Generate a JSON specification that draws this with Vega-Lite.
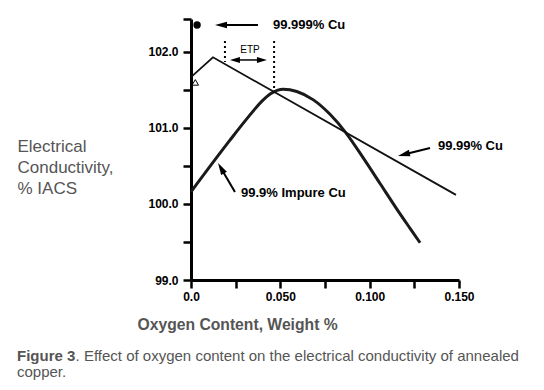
{
  "$schema": "https://vega.github.io/schema/vega-lite/v6.json",
  "width": 268,
  "height": 261,
  "autosize": {"type": "none"},
  "padding": {"left": 191, "top": 19, "right": 85, "bottom": 110},
  "background": "white",
  "config": {"view": {"stroke": null}, "font": "Liberation Sans"},
  "datasets": {
    "impure": [
      {"x": 0, "y": 100.16},
      {"x": 0.0218, "y": 100.84},
      {"x": 0.0312, "y": 101.12},
      {"x": 0.0396, "y": 101.35},
      {"x": 0.0445, "y": 101.45},
      {"x": 0.0517, "y": 101.51},
      {"x": 0.0592, "y": 101.48},
      {"x": 0.0685, "y": 101.37},
      {"x": 0.0778, "y": 101.18},
      {"x": 0.0866, "y": 100.94},
      {"x": 0.0963, "y": 100.61},
      {"x": 0.1058, "y": 100.27},
      {"x": 0.1153, "y": 99.93},
      {"x": 0.1226, "y": 99.68},
      {"x": 0.1282, "y": 99.49}
    ],
    "cu9999": [
      {"x": 0, "y": 101.67},
      {"x": 0.0123, "y": 101.93},
      {"x": 0.1483, "y": 100.12}
    ],
    "shafts": [
      {"x": 0.0168, "y": 102.355, "x2": 0.0375, "y2": 102.355},
      {"x": 0.1191, "y": 100.651, "x2": 0.1338, "y2": 100.737},
      {"x": 0.0168, "y": 100.471, "x2": 0.0246, "y2": 100.158}
    ],
    "etpShaft": [
      {"x": 0.0246, "y": 101.895, "x2": 0.0397, "y2": 101.895}
    ],
    "dotted": [
      {"x": 0.019, "y": 102.145, "x2": 0.019, "y2": 101.868},
      {"x": 0.0465, "y": 102.145, "x2": 0.0465, "y2": 101.5}
    ],
    "labels": [
      {"x": 0.0459, "y": 102.355, "label": "99.999% Cu"},
      {"x": 0.1382, "y": 100.763, "label": "99.99% Cu"},
      {"x": 0.028, "y": 100.145, "label": "99.9% Impure Cu"}
    ],
    "captionBold": [
      {"x": -0.0974, "y": 97.934, "label": "Figure 3"}
    ],
    "captionText": [
      {"x": -0.0646, "y": 97.934, "label": ". Effect of oxygen content on the electrical conductivity of annealed"},
      {"x": -0.0974, "y": 97.728, "label": "copper."}
    ]
  },
  "encoding": {
    "x": {
      "field": "x", "type": "quantitative",
      "scale": {"domain": [0, 0.15], "nice": false, "zero": false},
      "axis": {
        "values": [0, 0.025, 0.05, 0.075, 0.1, 0.125, 0.15],
        "labelExpr": "datum.value == 0 ? '0.0' : (abs(datum.value * 20 - round(datum.value * 20)) < 0.001 ? format(datum.value, '.3f') : '')",
        "grid": false,
        "domainWidth": 3, "domainColor": "#000",
        "tickColor": "#000", "tickWidth": 2.5, "tickSize": 8,
        "labelFont": "Liberation Sans", "labelFontWeight": "bold", "labelFontSize": 12,
        "labelColor": "#000", "labelPadding": 3, "labelFlush": false, "labelOverlap": false,
        "title": "Oxygen Content, Weight %",
        "titleFont": "Liberation Sans", "titleFontSize": 15.7, "titleFontWeight": "bold",
        "titleColor": "#555", "titleX": -54, "titleY": 49, "titleAlign": "left",
        "titleBaseline": "alphabetic", "titleAnchor": null
      }
    },
    "y": {
      "field": "y", "type": "quantitative",
      "scale": {"domain": [99, 102.434], "nice": false, "zero": false},
      "axis": {
        "values": [99, 99.5, 100, 100.5, 101, 101.5, 102, 102.434],
        "labelExpr": "abs(datum.value - round(datum.value)) < 0.001 ? format(datum.value, '.1f') : ''",
        "grid": false,
        "domainWidth": 3, "domainColor": "#000",
        "tickColor": "#000", "tickWidth": 2.5, "tickSize": 8,
        "labelFont": "Liberation Sans", "labelFontWeight": "bold", "labelFontSize": 12,
        "labelColor": "#000", "labelPadding": 5, "labelFlush": false, "labelOverlap": false,
        "title": ["Electrical", "Conductivity,", "% IACS"],
        "titleFont": "Liberation Sans", "titleFontSize": 17, "titleFontWeight": "normal",
        "titleColor": "#555", "titleAngle": 0, "titleX": -174, "titleY": 132,
        "titleAlign": "left", "titleBaseline": "alphabetic", "titleLineHeight": 21, "titleAnchor": null
      }
    }
  },
  "layer": [
    {
      "data": {"name": "impure"},
      "mark": {"type": "line", "interpolate": "monotone", "color": "#1a1a1a", "strokeWidth": 3}
    },
    {
      "data": {"name": "cu9999"},
      "mark": {"type": "line", "color": "#111", "strokeWidth": 1.8}
    },
    {
      "data": {"name": "shafts"},
      "mark": {"type": "rule", "color": "#000", "strokeWidth": 2},
      "encoding": {"x2": {"field": "x2"}, "y2": {"field": "y2"}}
    },
    {
      "data": {"name": "etpShaft"},
      "mark": {"type": "rule", "color": "#000", "strokeWidth": 1.5},
      "encoding": {"x2": {"field": "x2"}, "y2": {"field": "y2"}}
    },
    {
      "data": {"name": "dotted"},
      "mark": {"type": "rule", "color": "#000", "strokeWidth": 2, "strokeDash": [2, 3]},
      "encoding": {"x2": {"field": "x2"}, "y2": {"field": "y2"}}
    },
    {
      "data": {"values": [{"x": 0.0168, "y": 102.355}]},
      "mark": {"type": "point", "shape": "M0,-1L0.55,1L-0.55,1Z", "filled": true, "color": "#000", "opacity": 1, "size": 144, "angle": 270}
    },
    {
      "data": {"values": [{"x": 0.1191, "y": 100.651}]},
      "mark": {"type": "point", "shape": "M0,-1L0.55,1L-0.55,1Z", "filled": true, "color": "#000", "opacity": 1, "size": 144, "angle": 256}
    },
    {
      "data": {"values": [{"x": 0.0168, "y": 100.471}]},
      "mark": {"type": "point", "shape": "M0,-1L0.55,1L-0.55,1Z", "filled": true, "color": "#000", "opacity": 1, "size": 144, "angle": 330}
    },
    {
      "data": {"values": [{"x": 0.0246, "y": 101.895}]},
      "mark": {"type": "point", "shape": "M0,-1L0.6,1L-0.6,1Z", "filled": true, "color": "#000", "opacity": 1, "size": 100, "angle": 270}
    },
    {
      "data": {"values": [{"x": 0.0397, "y": 101.895}]},
      "mark": {"type": "point", "shape": "M0,-1L0.6,1L-0.6,1Z", "filled": true, "color": "#000", "opacity": 1, "size": 100, "angle": 90}
    },
    {
      "data": {"values": [{"x": 0.0034, "y": 102.355}]},
      "mark": {"type": "point", "shape": "circle", "filled": true, "color": "#000", "opacity": 1, "size": 55}
    },
    {
      "data": {"values": [{"x": 0.0024, "y": 101.6}]},
      "mark": {"type": "point", "shape": "triangle-up", "filled": false, "color": "#000", "opacity": 1, "size": 42, "strokeWidth": 1}
    },
    {
      "data": {"name": "labels"},
      "mark": {"type": "text", "align": "left", "baseline": "middle", "font": "Liberation Sans", "fontSize": 13, "fontWeight": "bold", "color": "#000"},
      "encoding": {"text": {"field": "label"}}
    },
    {
      "data": {"values": [{"x": 0.033, "y": 102.026, "label": "ETP"}]},
      "mark": {"type": "text", "align": "center", "baseline": "middle", "font": "Liberation Sans", "fontSize": 10, "color": "#000"},
      "encoding": {"text": {"field": "label"}}
    },
    {
      "data": {"name": "captionBold"},
      "mark": {"type": "text", "align": "left", "baseline": "alphabetic", "font": "Liberation Sans", "fontSize": 15, "fontWeight": "bold", "color": "#555"},
      "encoding": {"text": {"field": "label"}}
    },
    {
      "data": {"name": "captionText"},
      "mark": {"type": "text", "align": "left", "baseline": "alphabetic", "font": "Liberation Sans", "fontSize": 15, "color": "#555"},
      "encoding": {"text": {"field": "label"}}
    }
  ]
}
